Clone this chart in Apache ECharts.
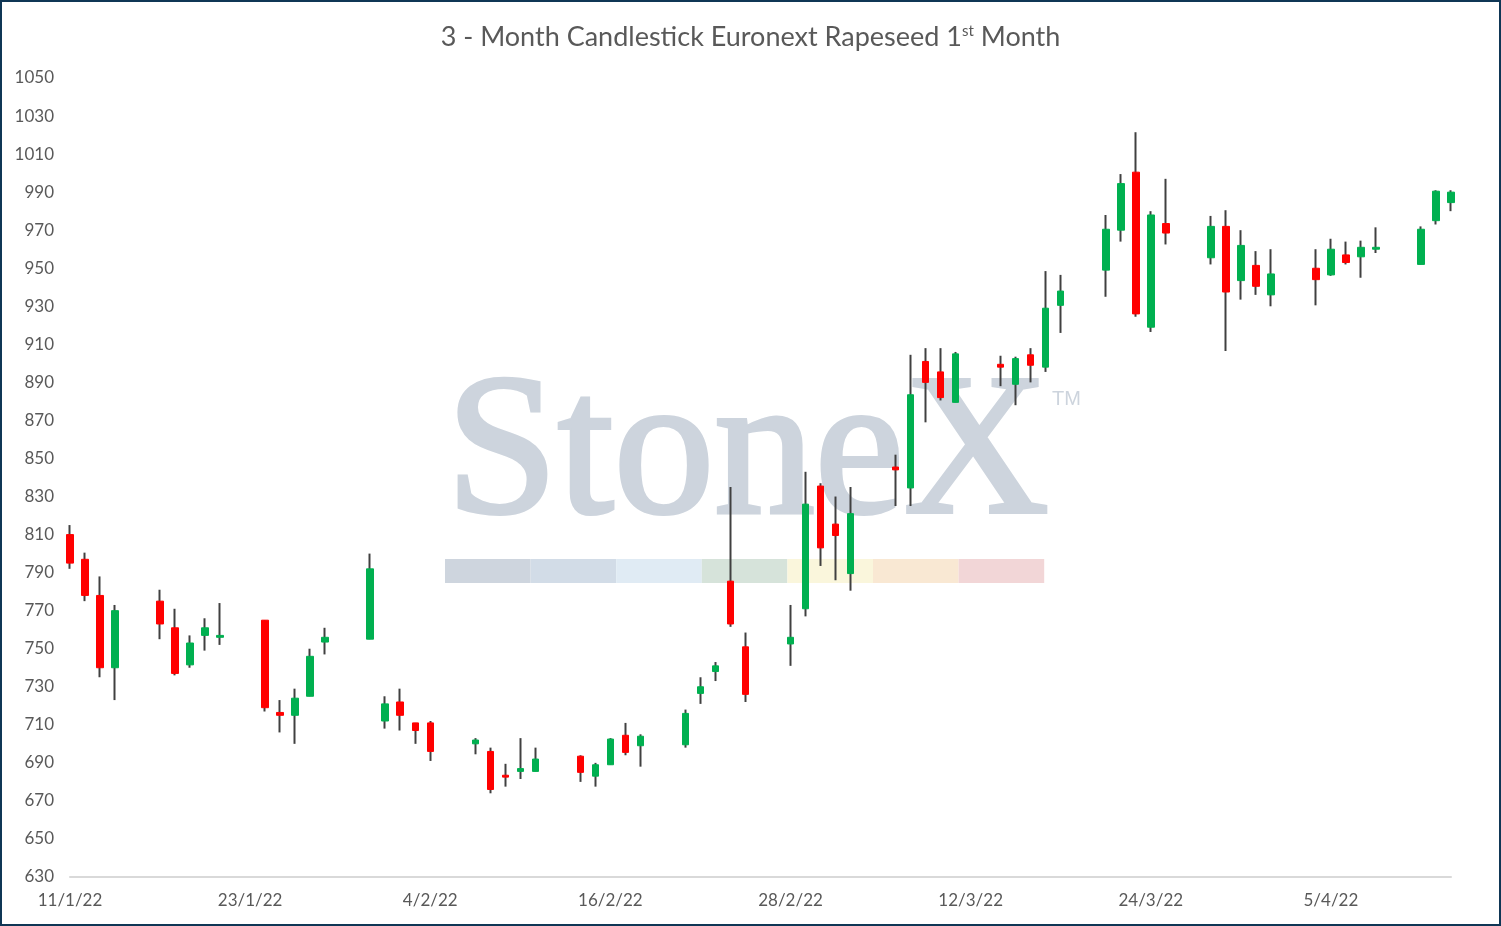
<!DOCTYPE html>
<html>
<head>
<meta charset="utf-8">
<script src="https://cdn.jsdelivr.net/npm/echarts@6/dist/echarts.min.js"></script>
<style>
html,body{margin:0;padding:0;background:#fff;}
#main{width:1501px;height:926px;}
</style>
</head>
<body>
<div id="main"></div>
<script>
// trading days, d/m/yy
var tradeDates = [
    '11/1/22','12/1/22','13/1/22','14/1/22',
    '17/1/22','18/1/22','19/1/22','20/1/22','21/1/22',
    '24/1/22','25/1/22','26/1/22','27/1/22','28/1/22',
    '31/1/22','1/2/22','2/2/22','3/2/22','4/2/22',
    '7/2/22','8/2/22','9/2/22','10/2/22','11/2/22',
    '14/2/22','15/2/22','16/2/22','17/2/22','18/2/22',
    '21/2/22','22/2/22','23/2/22','24/2/22','25/2/22',
    '28/2/22','1/3/22','2/3/22','3/3/22','4/3/22',
    '7/3/22','8/3/22','9/3/22','10/3/22','11/3/22',
    '14/3/22','15/3/22','16/3/22','17/3/22','18/3/22',
    '21/3/22','22/3/22','23/3/22','24/3/22','25/3/22',
    '28/3/22','29/3/22','30/3/22','31/3/22','1/4/22',
    '4/4/22','5/4/22','6/4/22','7/4/22','8/4/22',
    '11/4/22','12/4/22','13/4/22'
];
var openPrices = [
    810,797,778,740,
    775,761,741.5,757,756,
    765,716.5,715,725,753.5,
    755,712,722,711,711,
    700,696,683.5,685.5,685.5,
    693.5,683,689,704.5,699,
    699.5,726.5,738,785.5,751,
    752.5,771,835.5,815.5,789.5,
    845.5,834.5,901,895.5,879.5,
    899.5,889,904.5,898,930.5,
    949,970,1000.5,919,973.5,
    955.5,972,943.5,951.5,936,
    950,946.5,957,956,960,
    952,975,984.5
];
var closePrices = [
    795,778,740,770,
    763,737,753,761,757,
    719,715,724,746,756,
    792,721,715,707,696,
    702,676,682.5,687,692,
    685,689,702.5,695.5,704,
    716,730,741,763,726,
    756,826,803,809.5,821,
    844,883.5,890,882,905,
    898,902.5,899,929,938,
    970.5,994.5,926,978,968.5,
    972,937.5,962,940.5,947,
    944,960,953,961,961,
    970.5,990.5,990
];
var lowPrices = [
    792,775,735,723,
    755,736,740,749,752,
    717,706,700,725,747,
    755,708,707,700,691,
    694.5,674,677.5,681.5,685.5,
    680,677.5,689,694,688,
    698,721,733,761.5,722,
    741,767,793.5,786,780.5,
    825,825,869,880.5,879.5,
    888,878,890,895.5,916,
    935,964,924.5,916.5,962.5,
    952,906.5,933.5,936,930,
    930.5,946,952,945,958,
    952,973,980
];
var highPrices = [
    815,800.5,788,773,
    781,771,757,766,774,
    765,723,729,750,761,
    800,725,729,711,712,
    703,698,689.5,703,698,
    694,690,703,711,705,
    718,735,743,835,758.5,
    773,843,837,830,835,
    852,904.5,908,908,906,
    904,903.5,908,948.5,946.5,
    978,999.5,1021.5,980,997,
    977.5,980.5,970,959,960,
    960,965.5,964,964.5,971.5,
    972,991,991
];
var yLabels = [630,650,670,690,710,730,750,770,790,810,830,850,870,890,910,930,950,970,990,1010,1030,1050];

var textColor = '#595959';

function parseDay(s) {
    var p = s.split('/');
    return new Date(2000 + parseInt(p[2]), parseInt(p[1]) - 1, parseInt(p[0]));
}
function dayLabel(d) {
    return d.getDate() + '/' + (d.getMonth() + 1) + '/' + String(d.getFullYear()).slice(2);
}

// calendar axis: every day between first and last trading day
var days = [];
var first = parseDay(tradeDates[0]);
var last = parseDay(tradeDates[tradeDates.length - 1]);
for (var d = new Date(first); d <= last; d.setDate(d.getDate() + 1)) {
    days.push(dayLabel(d));
}

var wickData = days.map(function () { return ['-', '-', '-', '-']; });
var bodyData = days.map(function () { return ['-', '-', '-', '-']; });
tradeDates.forEach(function (t, i) {
    var k = days.indexOf(t);
    wickData[k] = [openPrices[i], closePrices[i], lowPrices[i], highPrices[i]];
    bodyData[k] = [openPrices[i], closePrices[i],
        Math.min(openPrices[i], closePrices[i]), Math.max(openPrices[i], closePrices[i])];
});

var bandColors = ['#ced5de', '#d2dce7', '#e0ebf4', '#d6e3da', '#faf6dc', '#f9e8d3', '#f2d6d7'];
var watermark = [
    {
        type: 'text', left: 444, top: 357, silent: true,
        style: {text: 'StoneX', font: '201px "Liberation Serif"', fill: '#cdd4dd', stroke: '#cdd4dd', lineWidth: 4}
    },
    {
        type: 'text', left: 1052, top: 389, silent: true,
        style: {text: 'TM', font: '20px "Liberation Sans"', fill: '#cdd4dd'}
    }
];
bandColors.forEach(function (c, i) {
    watermark.push({
        type: 'rect', silent: true,
        shape: {x: 445 + i * 85.6, y: 559, width: 85.6, height: 24},
        style: {fill: c}
    });
});
watermark.push({
    type: 'rect', silent: true, z: 100,
    shape: {x: 1, y: 1, width: 1499, height: 924},
    style: {fill: 'none', stroke: '#0f3655', lineWidth: 2}
});

var chart = echarts.init(document.getElementById('main'));
chart.setOption({
    backgroundColor: '#fff',
    animation: false,
    title: {
        left: 'center',
        top: 19,
        text: '{t|3 - Month Candlestick Euronext Rapeseed 1}{s|st}{t| Month}',
        textStyle: {
            rich: {
                t: {fontFamily: 'Lato', fontSize: 27, fontWeight: 'normal', color: textColor},
                s: {fontFamily: 'Lato', fontSize: 15, fontWeight: 'normal', color: textColor, verticalAlign: 'top'}
            }
        }
    },
    graphic: watermark,
    grid: {
        left: 70,
        right: 50,
        top: 78,
        bottom: 49,
        outerBoundsMode: 'none'
    },
    xAxis: {
        type: 'category',
        data: days,
        boundaryGap: false,
        axisLine: {lineStyle: {color: '#d9d9d9', width: 2}},
        axisTick: {show: false},
        splitLine: {show: false},
        axisLabel: {
            interval: 11,
            color: textColor,
            fontFamily: 'Lato',
            fontSize: 17,
            margin: 15
        }
    },
    yAxis: {
        type: 'value',
        min: 630,
        max: 1050,
        interval: 10,
        scale: true,
        axisLine: {show: false},
        axisTick: {show: false},
        splitLine: {show: false},
        axisLabel: {
            color: textColor,
            fontFamily: 'Lato',
            fontSize: 17,
            margin: 16,
            formatter: function (v) {
                return yLabels.indexOf(v) >= 0 ? String(v) : '';
            }
        }
    },
    series: [
        {
            name: 'wick',
            type: 'candlestick',
            data: wickData,
            barWidth: 1,
            clip: true,
            itemStyle: {
                color: '#404040', color0: '#404040',
                borderColor: '#404040', borderColor0: '#404040',
                borderWidth: 2
            }
        },
        {
            name: 'body',
            type: 'candlestick',
            data: bodyData,
            barWidth: 7,
            clip: true,
            itemStyle: {
                color: '#00b050', color0: '#ff0000',
                borderColor: '#00b050', borderColor0: '#ff0000',
                borderWidth: 1
            }
        }
    ]
});
</script>
</body>
</html>
